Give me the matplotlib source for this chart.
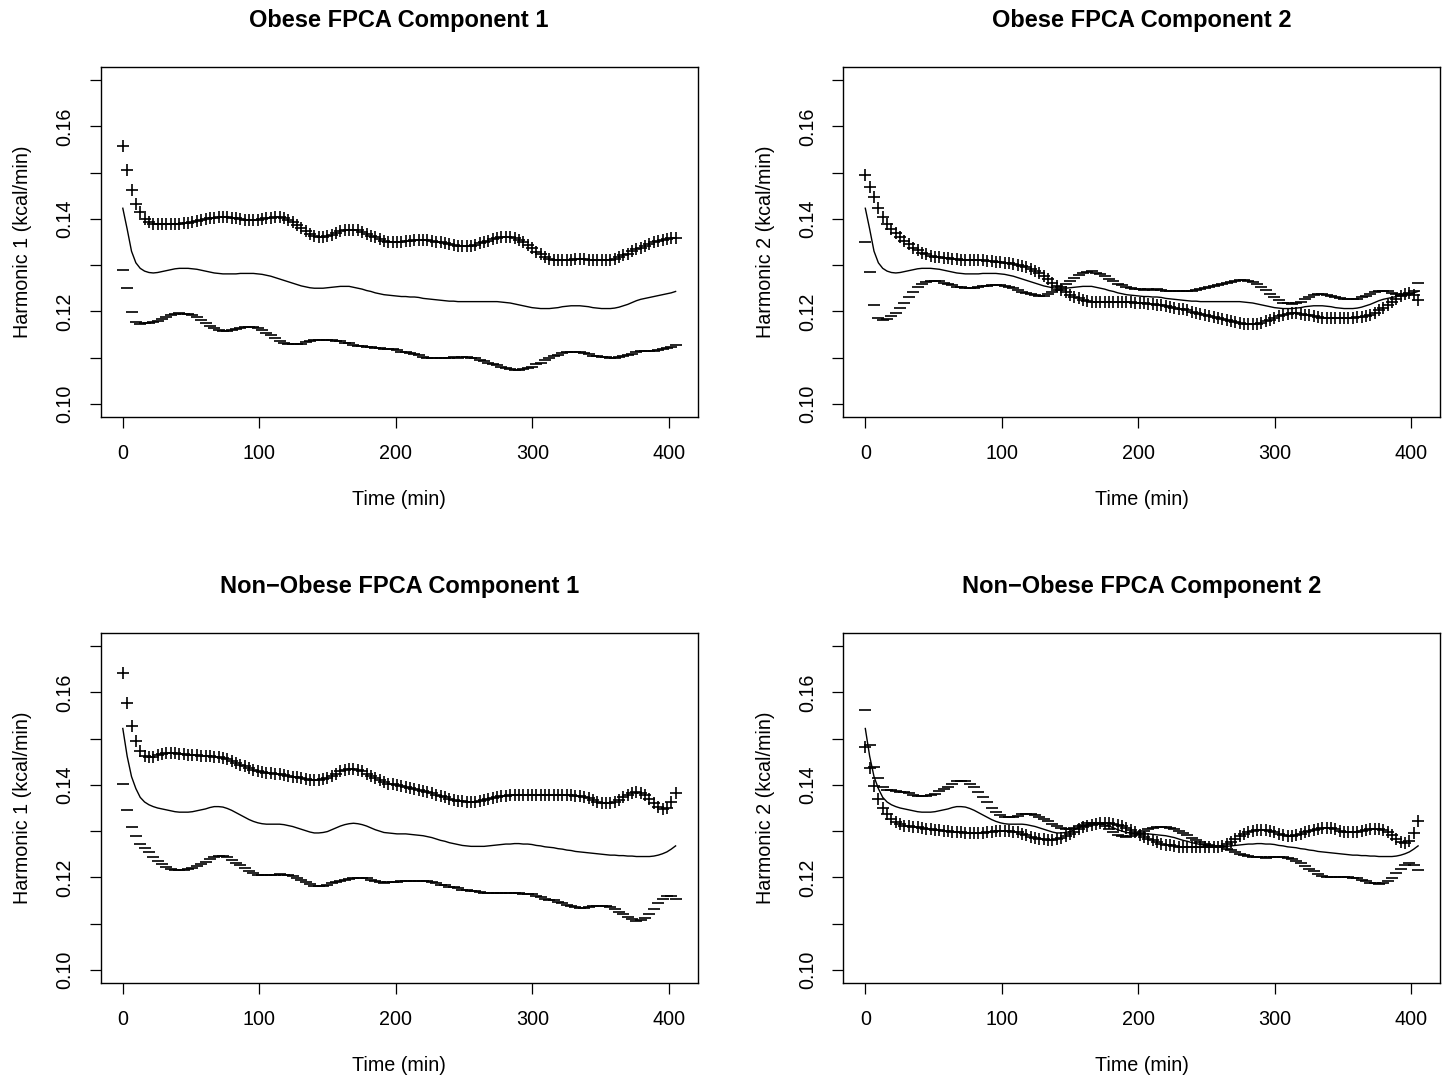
import numpy as np
import matplotlib
matplotlib.use("Agg")
import matplotlib.pyplot as plt

# Evaluation grid of the functional PCA (128 points over the session)
time_min = np.linspace(0, 405, 128)

# Mean energy-expenditure curves (kcal/min)
obese_mean = [
    0.1423, 0.1378, 0.1330, 0.1305, 0.1293, 0.1287, 0.1284, 0.1283, 0.1284, 0.1286,
    0.1288, 0.1290, 0.1292, 0.1293, 0.1293, 0.1293, 0.1292, 0.1291, 0.1289, 0.1287,
    0.1285, 0.1283, 0.1282, 0.1281, 0.1281, 0.1281, 0.1281, 0.1282, 0.1282, 0.1282,
    0.1282, 0.1281, 0.1280, 0.1278, 0.1276, 0.1273, 0.1270, 0.1267, 0.1264, 0.1261,
    0.1258, 0.1255, 0.1253, 0.1251, 0.1250, 0.1250, 0.1250, 0.1251, 0.1252, 0.1253,
    0.1254, 0.1254, 0.1254, 0.1252, 0.1250, 0.1248, 0.1245, 0.1243, 0.1240, 0.1238,
    0.1236, 0.1235, 0.1234, 0.1233, 0.1232, 0.1232, 0.1231, 0.1231, 0.1230, 0.1228,
    0.1227, 0.1226, 0.1225, 0.1224, 0.1223, 0.1222, 0.1222, 0.1221, 0.1221, 0.1221,
    0.1221, 0.1221, 0.1221, 0.1221, 0.1221, 0.1221, 0.1221, 0.1220, 0.1219, 0.1218,
    0.1216, 0.1214, 0.1212, 0.1210, 0.1208, 0.1207, 0.1206, 0.1206, 0.1206, 0.1207,
    0.1208, 0.1210, 0.1211, 0.1212, 0.1212, 0.1212, 0.1211, 0.1210, 0.1208, 0.1207,
    0.1206, 0.1206, 0.1206, 0.1207, 0.1209, 0.1212, 0.1215, 0.1219, 0.1223, 0.1226,
    0.1228, 0.1230, 0.1232, 0.1234, 0.1236, 0.1238, 0.1240, 0.1243]

nonobese_mean = [
    0.1522, 0.1462, 0.1418, 0.1392, 0.1373, 0.1363, 0.1357, 0.1353, 0.1350, 0.1348,
    0.1346, 0.1344, 0.1342, 0.1341, 0.1341, 0.1341, 0.1342, 0.1344, 0.1346, 0.1348,
    0.1351, 0.1353, 0.1353, 0.1352, 0.1349, 0.1345, 0.1340, 0.1335, 0.1330, 0.1325,
    0.1321, 0.1318, 0.1316, 0.1315, 0.1315, 0.1315, 0.1315, 0.1314, 0.1312, 0.1310,
    0.1307, 0.1304, 0.1301, 0.1298, 0.1296, 0.1296, 0.1297, 0.1299, 0.1303, 0.1307,
    0.1311, 0.1314, 0.1316, 0.1317, 0.1316, 0.1314, 0.1311, 0.1307, 0.1303, 0.1300,
    0.1297, 0.1296, 0.1295, 0.1294, 0.1294, 0.1294, 0.1293, 0.1292, 0.1291, 0.1290,
    0.1288, 0.1286, 0.1283, 0.1280, 0.1278, 0.1275, 0.1273, 0.1271, 0.1269, 0.1268,
    0.1267, 0.1267, 0.1267, 0.1267, 0.1268, 0.1269, 0.1270, 0.1271, 0.1272, 0.1272,
    0.1273, 0.1273, 0.1272, 0.1272, 0.1271, 0.1269, 0.1268, 0.1266, 0.1265, 0.1264,
    0.1262, 0.1261, 0.1259, 0.1258, 0.1256, 0.1255, 0.1254, 0.1253, 0.1252, 0.1251,
    0.1250, 0.1249, 0.1248, 0.1248, 0.1247, 0.1247, 0.1246, 0.1246, 0.1245, 0.1245,
    0.1245, 0.1245, 0.1246, 0.1248, 0.1251, 0.1255, 0.1261, 0.1268]

# Mean + (scaled) harmonic for each component
obese_pc1_plus = [
    0.1557, 0.1505, 0.1462, 0.1433, 0.1414, 0.1400, 0.1393, 0.1390, 0.1389, 0.1389,
    0.1389, 0.1389, 0.1389, 0.1390, 0.1391, 0.1392, 0.1393, 0.1395, 0.1397, 0.1399,
    0.1401, 0.1403, 0.1404, 0.1404, 0.1404, 0.1403, 0.1401, 0.1399, 0.1398, 0.1397,
    0.1397, 0.1398, 0.1400, 0.1402, 0.1403, 0.1404, 0.1404, 0.1402, 0.1398, 0.1393,
    0.1387, 0.1380, 0.1373, 0.1367, 0.1363, 0.1361, 0.1361, 0.1363, 0.1366, 0.1370,
    0.1373, 0.1376, 0.1377, 0.1377, 0.1375, 0.1372, 0.1368, 0.1364, 0.1360, 0.1356,
    0.1353, 0.1351, 0.1350, 0.1350, 0.1351, 0.1352, 0.1353, 0.1354, 0.1355, 0.1355,
    0.1354, 0.1353, 0.1351, 0.1349, 0.1347, 0.1345, 0.1343, 0.1342, 0.1341, 0.1341,
    0.1342, 0.1344, 0.1347, 0.1350, 0.1353, 0.1356, 0.1358, 0.1360, 0.1361, 0.1360,
    0.1358, 0.1354, 0.1349, 0.1343, 0.1336, 0.1329, 0.1323, 0.1317, 0.1313, 0.1311,
    0.1310, 0.1310, 0.1311, 0.1312, 0.1313, 0.1313, 0.1313, 0.1312, 0.1312, 0.1311,
    0.1311, 0.1311, 0.1312, 0.1314, 0.1317, 0.1321, 0.1325, 0.1330, 0.1334, 0.1338,
    0.1342, 0.1346, 0.1349, 0.1352, 0.1354, 0.1356, 0.1358, 0.1359]

obese_pc2_plus = [
    0.1495, 0.1470, 0.1447, 0.1424, 0.1405, 0.1390, 0.1378, 0.1369, 0.1361, 0.1353,
    0.1345, 0.1338, 0.1332, 0.1327, 0.1323, 0.1320, 0.1318, 0.1317, 0.1316, 0.1315,
    0.1314, 0.1313, 0.1312, 0.1312, 0.1311, 0.1311, 0.1310, 0.1310, 0.1309, 0.1308,
    0.1307, 0.1306, 0.1305, 0.1304, 0.1302, 0.1300, 0.1298, 0.1295, 0.1291, 0.1287,
    0.1282, 0.1276, 0.1269, 0.1261, 0.1254, 0.1247, 0.1241, 0.1236, 0.1231, 0.1228,
    0.1225, 0.1223, 0.1221, 0.1220, 0.1220, 0.1220, 0.1220, 0.1220, 0.1220, 0.1220,
    0.1220, 0.1220, 0.1219, 0.1218, 0.1217, 0.1216, 0.1215, 0.1214, 0.1213, 0.1211,
    0.1210, 0.1208, 0.1206, 0.1204, 0.1202, 0.1199, 0.1197, 0.1194, 0.1192, 0.1189,
    0.1187, 0.1185, 0.1183, 0.1181, 0.1179, 0.1177, 0.1175, 0.1173, 0.1172, 0.1172,
    0.1173, 0.1175, 0.1178, 0.1182, 0.1186, 0.1190, 0.1193, 0.1195, 0.1196, 0.1196,
    0.1195, 0.1193, 0.1191, 0.1189, 0.1187, 0.1186, 0.1186, 0.1186, 0.1186, 0.1186,
    0.1186, 0.1186, 0.1186, 0.1187, 0.1188, 0.1190, 0.1193, 0.1197, 0.1202, 0.1207,
    0.1213, 0.1220, 0.1227, 0.1233, 0.1237, 0.1239, 0.1236, 0.1224]

nonobese_pc1_plus = [
    0.1642, 0.1578, 0.1528, 0.1494, 0.1474, 0.1463, 0.1460, 0.1461, 0.1464, 0.1467,
    0.1469, 0.1469, 0.1468, 0.1467, 0.1466, 0.1465, 0.1464, 0.1464, 0.1463, 0.1463,
    0.1462, 0.1461, 0.1460, 0.1458, 0.1455, 0.1452, 0.1448, 0.1444, 0.1440, 0.1436,
    0.1432, 0.1430, 0.1428, 0.1426, 0.1425, 0.1424, 0.1423, 0.1422, 0.1420, 0.1418,
    0.1416, 0.1414, 0.1412, 0.1411, 0.1410, 0.1410, 0.1412, 0.1415, 0.1419, 0.1424,
    0.1429, 0.1433, 0.1435, 0.1435, 0.1433, 0.1429, 0.1424, 0.1419, 0.1414, 0.1410,
    0.1406, 0.1403, 0.1401, 0.1399, 0.1397, 0.1395, 0.1393, 0.1391, 0.1389, 0.1387,
    0.1385, 0.1382, 0.1379, 0.1376, 0.1373, 0.1370, 0.1368, 0.1366, 0.1365, 0.1364,
    0.1364, 0.1364, 0.1365, 0.1367, 0.1369, 0.1371, 0.1373, 0.1375, 0.1377, 0.1378,
    0.1379, 0.1379, 0.1379, 0.1379, 0.1378, 0.1378, 0.1378, 0.1378, 0.1378, 0.1378,
    0.1378, 0.1378, 0.1378, 0.1378, 0.1377, 0.1376, 0.1374, 0.1371, 0.1367, 0.1363,
    0.1361, 0.1360, 0.1361, 0.1364, 0.1368, 0.1373, 0.1378, 0.1382, 0.1384, 0.1383,
    0.1378, 0.1370, 0.1360, 0.1352, 0.1348, 0.1350, 0.1362, 0.1383]

nonobese_pc2_plus = [
    0.1482, 0.1437, 0.1398, 0.1370, 0.1350, 0.1336, 0.1326, 0.1319, 0.1315, 0.1312,
    0.1310, 0.1309, 0.1308, 0.1306, 0.1305, 0.1304, 0.1303, 0.1302, 0.1301, 0.1300,
    0.1299, 0.1298, 0.1297, 0.1296, 0.1295, 0.1295, 0.1295, 0.1296, 0.1297, 0.1299,
    0.1300, 0.1301, 0.1301, 0.1300, 0.1299, 0.1297, 0.1294, 0.1291, 0.1288, 0.1286,
    0.1284, 0.1282, 0.1281, 0.1281, 0.1282, 0.1285, 0.1289, 0.1294, 0.1299, 0.1304,
    0.1308, 0.1311, 0.1314, 0.1316, 0.1317, 0.1317, 0.1317, 0.1316, 0.1314, 0.1311,
    0.1307, 0.1302, 0.1297, 0.1292, 0.1287, 0.1283, 0.1280, 0.1276, 0.1273, 0.1271,
    0.1269, 0.1267, 0.1266, 0.1265, 0.1265, 0.1265, 0.1265, 0.1265, 0.1265, 0.1265,
    0.1266, 0.1266, 0.1268, 0.1272, 0.1277, 0.1283, 0.1289, 0.1294, 0.1298, 0.1301,
    0.1303, 0.1303, 0.1302, 0.1300, 0.1297, 0.1294, 0.1291, 0.1290, 0.1290, 0.1292,
    0.1294, 0.1297, 0.1300, 0.1303, 0.1305, 0.1307, 0.1307, 0.1306, 0.1304, 0.1301,
    0.1299, 0.1297, 0.1297, 0.1298, 0.1300, 0.1302, 0.1304, 0.1305, 0.1305, 0.1303,
    0.1298, 0.1291, 0.1283, 0.1277, 0.1275, 0.1279, 0.1295, 0.1321]

panel_titles = ["Obese FPCA Component 1", "Obese FPCA Component 2",
                "Non\u2212Obese FPCA Component 1", "Non\u2212Obese FPCA Component 2"]
y_axis_labels = ["Harmonic 1 (kcal/min)", "Harmonic 2 (kcal/min)",
                 "Harmonic 1 (kcal/min)", "Harmonic 2 (kcal/min)"]
x_axis_label = "Time (min)"
x_ticks = [0, 100, 200, 300, 400]
y_ticks = [0.10, 0.11, 0.12, 0.13, 0.14, 0.15, 0.16, 0.17]
y_tick_labels = ["0.10", "", "0.12", "", "0.14", "", "0.16", ""]

panels = [
    (obese_mean, obese_pc1_plus),
    (obese_mean, obese_pc2_plus),
    (nonobese_mean, nonobese_pc1_plus),
    (nonobese_mean, nonobese_pc2_plus),
]

plt.rcParams["font.family"] = ["Liberation Sans", "DejaVu Sans"]

W, H = 1445, 1076
fig = plt.figure(figsize=(W / 100, H / 100), dpi=100)
fig.patch.set_facecolor("white")

# plot-region boxes in pixels: (left, top)
box_w, box_h = 597.0, 349.4
origins = [(100.7, 67.3), (843.2, 67.3), (100.7, 633.3), (843.2, 633.3)]
ylabel_x = [22.0, 765.0]

x_lo, x_hi = 0.0, 405.0
y_lo, y_hi = 0.10, 0.17
xpad = 0.04 * (x_hi - x_lo)
ypad = 0.04 * (y_hi - y_lo)

for k, (left, top) in enumerate(origins):
    ax = fig.add_axes([left / W, 1 - (top + box_h) / H, box_w / W, box_h / H])
    mean = np.asarray(panels[k][0])
    plus = np.asarray(panels[k][1])
    minus = mean - (plus - mean)

    ax.plot(time_min, mean, color="black", lw=1.0, solid_joinstyle="round")
    ax.plot(time_min, plus, ls="none", marker="+", ms=8.5, mew=1.2, color="black")
    ax.plot(time_min, minus, ls="none", marker="_", ms=8.0, mew=1.2, color="black")

    ax.set_xlim(x_lo - xpad, x_hi + xpad)
    ax.set_ylim(y_lo - ypad, y_hi + ypad)
    ax.set_xticks(x_ticks)
    ax.set_xticklabels([str(v) for v in x_ticks])
    ax.set_yticks(y_ticks)
    ax.set_yticklabels(y_tick_labels, rotation=90, va="center")

    ax.tick_params(axis="both", direction="out", length=8, width=0.9,
                   labelsize=14.2, colors="black")
    ax.tick_params(axis="x", pad=11.5)
    ax.tick_params(axis="y", pad=11)
    for s in ax.spines.values():
        s.set_linewidth(1.0)
        s.set_color("black")

    ax.text(0.5, 1 + 47 / box_h, panel_titles[k], transform=ax.transAxes,
            ha="center", va="center", fontsize=17, fontweight="bold")
    ax.text(0.5, -83 / box_h, x_axis_label, transform=ax.transAxes,
            ha="center", va="center", fontsize=14.2)
    ax.text(-(left - ylabel_x[k % 2]) / box_w, 0.5,
            y_axis_labels[k], transform=ax.transAxes, rotation=90,
            ha="center", va="center", fontsize=14.2)

fig.savefig("out.png", dpi=100, facecolor="white")
